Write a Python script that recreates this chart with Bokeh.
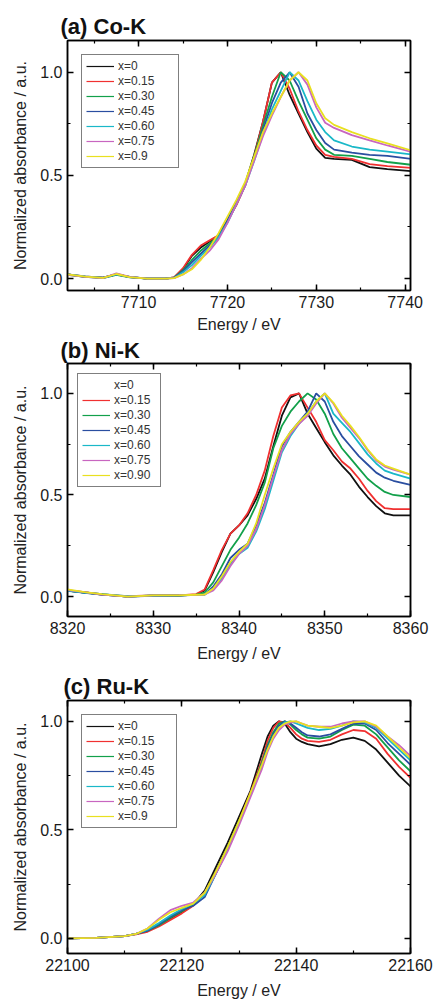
from bokeh.plotting import figure
from bokeh.layouts import column
from bokeh.models import (Legend, LegendItem, LinearAxis, Range1d, SingleIntervalTicker,
                          PrintfTickFormatter, CustomLabelingPolicy)
from bokeh.embed import file_html
from bokeh.resources import INLINE

FONT = "Liberation Sans"
COLORS = ["#111111", "#f03030", "#12a04a", "#2a4ea0", "#1ab8c8", "#c866c0", "#e8e020"]

# ---------------- (a) Co-K ----------------
CO_E = [7702, 7704, 7706, 7707.5, 7709, 7711, 7713, 7714, 7715, 7716, 7717, 7718, 7719, 7720,
        7721, 7722, 7723, 7724, 7725, 7726, 7727, 7728, 7729, 7730, 7731, 7732, 7734, 7736, 7738, 7741]
co_x000 = [0.02, 0.008, 0.004, 0.02, 0.008, 0.0, 0.0, 0.005, 0.045, 0.11, 0.15, 0.18, 0.21, 0.28,
           0.36, 0.46, 0.60, 0.76, 0.95, 1.0, 0.89, 0.80, 0.71, 0.63, 0.585, 0.58, 0.575, 0.54, 0.53, 0.52]
co_x015 = [0.02, 0.01, 0.003, 0.022, 0.007, 0.0, 0.0, 0.006, 0.05, 0.115, 0.16, 0.185, 0.21, 0.28,
           0.355, 0.45, 0.59, 0.76, 0.95, 1.0, 0.92, 0.81, 0.72, 0.645, 0.60, 0.59, 0.58, 0.555, 0.545, 0.535]
co_x030 = [0.018, 0.008, 0.002, 0.018, 0.006, 0.0, 0.0, 0.004, 0.04, 0.09, 0.135, 0.17, 0.205, 0.28,
           0.37, 0.46, 0.59, 0.74, 0.88, 1.0, 0.96, 0.86, 0.77, 0.68, 0.625, 0.60, 0.595, 0.58, 0.565, 0.55]
co_x045 = [0.02, 0.009, 0.004, 0.02, 0.007, 0.0, 0.0, 0.004, 0.035, 0.08, 0.12, 0.16, 0.2, 0.28,
           0.37, 0.46, 0.58, 0.72, 0.85, 0.95, 1.0, 0.93, 0.80, 0.72, 0.657, 0.625, 0.61, 0.60, 0.595, 0.578]
co_x060 = [0.02, 0.01, 0.003, 0.02, 0.008, 0.0, 0.0, 0.003, 0.03, 0.065, 0.11, 0.15, 0.2, 0.27,
           0.36, 0.45, 0.57, 0.70, 0.82, 0.91, 1.0, 0.96, 0.86, 0.77, 0.71, 0.67, 0.64, 0.625, 0.615, 0.60]
co_x075 = [0.018, 0.008, 0.002, 0.025, 0.008, 0.0, 0.0, 0.002, 0.02, 0.05, 0.095, 0.135, 0.19, 0.27,
           0.36, 0.45, 0.57, 0.69, 0.79, 0.88, 0.96, 1.0, 0.94, 0.83, 0.755, 0.73, 0.695, 0.67, 0.645, 0.61]
co_x090 = [0.02, 0.009, 0.003, 0.022, 0.007, 0.0, 0.0, 0.002, 0.02, 0.045, 0.09, 0.15, 0.22, 0.30,
           0.38, 0.47, 0.59, 0.71, 0.80, 0.88, 0.96, 1.0, 0.96, 0.85, 0.777, 0.745, 0.71, 0.68, 0.655, 0.617]
CO_LABELS = ["x=0", "x=0.15", "x=0.30", "x=0.45", "x=0.60", "x=0.75", "x=0.9"]

# ---------------- (b) Ni-K ----------------
NI_E = [8320, 8322, 8324, 8327, 8330, 8333, 8335,
        8336, 8337, 8338, 8339, 8340, 8341, 8342, 8343, 8344, 8345, 8346, 8347,
        8348, 8349, 8350, 8351, 8352, 8353, 8354, 8355, 8356, 8357, 8358, 8360]
ni_x000 = [0.03, 0.02, 0.012, 0.0, 0.005, 0.005, 0.01,
           0.03, 0.12, 0.22, 0.31, 0.35, 0.40, 0.48, 0.58, 0.74, 0.89, 0.98, 1.0,
           0.90, 0.83, 0.76, 0.695, 0.645, 0.60, 0.54, 0.49, 0.445, 0.41, 0.40, 0.40]
ni_x015 = [0.03, 0.022, 0.01, 0.002, 0.006, 0.006, 0.012,
           0.035, 0.13, 0.23, 0.31, 0.35, 0.41, 0.50, 0.62, 0.79, 0.93, 0.99, 1.0,
           0.93, 0.86, 0.77, 0.72, 0.665, 0.63, 0.58, 0.52, 0.47, 0.435, 0.43, 0.43]
ni_x030 = [0.028, 0.02, 0.01, 0.0, 0.006, 0.006, 0.01,
           0.02, 0.07, 0.15, 0.23, 0.29, 0.36, 0.45, 0.56, 0.73, 0.84, 0.91, 0.96,
           1.0, 0.97, 0.90, 0.80, 0.73, 0.68, 0.63, 0.58, 0.545, 0.515, 0.50, 0.49]
ni_x045 = [0.03, 0.018, 0.01, 0.0, 0.004, 0.005, 0.008,
           0.01, 0.05, 0.11, 0.19, 0.23, 0.26, 0.35, 0.46, 0.60, 0.74, 0.81, 0.86,
           0.91, 1.0, 0.96, 0.86, 0.79, 0.74, 0.69, 0.65, 0.61, 0.585, 0.57, 0.55]
ni_x060 = [0.03, 0.02, 0.012, 0.002, 0.005, 0.006, 0.008,
           0.01, 0.04, 0.09, 0.16, 0.21, 0.24, 0.32, 0.43, 0.57, 0.71, 0.79, 0.85,
           0.90, 0.96, 1.0, 0.90, 0.855, 0.81, 0.755, 0.70, 0.655, 0.62, 0.605, 0.58]
ni_x075 = [0.032, 0.022, 0.01, 0.0, 0.006, 0.007, 0.008,
           0.01, 0.03, 0.08, 0.15, 0.21, 0.25, 0.33, 0.45, 0.59, 0.72, 0.80, 0.85,
           0.89, 0.95, 1.0, 0.95, 0.88, 0.83, 0.78, 0.72, 0.67, 0.64, 0.625, 0.60]
ni_x090 = [0.035, 0.022, 0.012, 0.0, 0.006, 0.006, 0.009,
           0.01, 0.04, 0.10, 0.17, 0.22, 0.26, 0.36, 0.50, 0.63, 0.75, 0.81, 0.86,
           0.90, 0.96, 1.0, 0.955, 0.89, 0.84, 0.785, 0.725, 0.675, 0.645, 0.63, 0.60]
NI_LABELS = ["x=0", "x=0.15", "x=0.30", "x=0.45", "x=0.60", "x=0.75", "x=0.90"]

# ---------------- (c) Ru-K ----------------
RU_E = [22100, 22105, 22110, 22112, 22114, 22116, 22118, 22120, 22122, 22124, 22126, 22128,
        22130, 22132, 22134, 22135, 22136, 22137, 22138, 22139, 22140, 22141,
        22142, 22144, 22146, 22148, 22150, 22152, 22154, 22156, 22158, 22160]
ru_x000 = [0.0, 0.002, 0.01, 0.02, 0.035, 0.06, 0.09, 0.12, 0.155, 0.22, 0.33, 0.44, 0.56, 0.68, 0.85,
           0.93, 0.98, 1.0, 0.99, 0.95, 0.92, 0.905,
           0.895, 0.885, 0.895, 0.915, 0.925, 0.91, 0.87, 0.81, 0.75, 0.70]
ru_x015 = [0.0, 0.002, 0.01, 0.018, 0.03, 0.055, 0.085, 0.115, 0.15, 0.21, 0.31, 0.42, 0.54, 0.67, 0.82,
           0.91, 0.97, 1.0, 0.995, 0.97, 0.94, 0.92,
           0.91, 0.905, 0.915, 0.94, 0.96, 0.955, 0.92, 0.85, 0.79, 0.74]
ru_x030 = [0.0, 0.002, 0.01, 0.02, 0.035, 0.06, 0.095, 0.125, 0.155, 0.21, 0.31, 0.42, 0.54, 0.66, 0.81,
           0.89, 0.95, 0.99, 1.0, 0.985, 0.96, 0.94,
           0.925, 0.92, 0.93, 0.96, 0.985, 0.98, 0.94, 0.88, 0.82, 0.77]
ru_x045 = [0.0, 0.002, 0.01, 0.02, 0.035, 0.065, 0.1, 0.13, 0.15, 0.19, 0.30, 0.41, 0.53, 0.66, 0.80,
           0.88, 0.94, 0.98, 1.0, 0.99, 0.97, 0.95,
           0.935, 0.93, 0.94, 0.965, 0.99, 0.99, 0.96, 0.90, 0.85, 0.80]
ru_x060 = [0.0, 0.002, 0.01, 0.02, 0.04, 0.07, 0.105, 0.135, 0.16, 0.2, 0.3, 0.41, 0.53, 0.66, 0.79,
           0.87, 0.93, 0.97, 0.995, 1.0, 0.99, 0.98,
           0.97, 0.96, 0.965, 0.98, 1.0, 0.995, 0.97, 0.92, 0.87, 0.82]
ru_x075 = [0.0, 0.002, 0.01, 0.02, 0.045, 0.09, 0.13, 0.15, 0.165, 0.21, 0.3, 0.4, 0.52, 0.65, 0.78,
           0.86, 0.92, 0.96, 0.985, 0.995, 1.0, 0.99,
           0.98, 0.975, 0.975, 0.99, 1.0, 1.0, 0.975, 0.93, 0.89, 0.84]
ru_x090 = [0.0, 0.002, 0.01, 0.02, 0.045, 0.085, 0.12, 0.14, 0.16, 0.21, 0.31, 0.42, 0.54, 0.67, 0.80,
           0.87, 0.93, 0.97, 0.99, 1.0, 1.0, 0.99,
           0.98, 0.975, 0.97, 0.98, 0.995, 1.0, 0.98, 0.93, 0.88, 0.83]
RU_LABELS = ["x=0", "x=0.15", "x=0.30", "x=0.45", "x=0.60", "x=0.75", "x=0.9"]

NO_LABELS = """
try {
  for (const i of Array.from(indices)) { indices.unset(i) }
} catch (e) {}
return indices
"""


def style_axis(ax, labels=True, xlabel_standoff=8):
    ax.axis_line_width = 1.5
    ax.axis_line_color = "black"
    ax.major_tick_in = 6
    ax.major_tick_out = 0
    ax.minor_tick_in = 3
    ax.minor_tick_out = 0
    ax.major_tick_line_width = 1.5
    ax.minor_tick_line_width = 1.2
    if labels:
        ax.major_label_text_font = FONT
        ax.major_label_text_font_size = "16px"
        ax.major_label_text_color = "#1a1a1a"
        ax.major_label_standoff = 5
        ax.axis_label_text_font = FONT
        ax.axis_label_text_font_size = "16px"
        ax.axis_label_text_font_style = "normal"
        ax.axis_label_text_color = "#222222"
        ax.axis_label_standoff = xlabel_standoff
    else:
        ax.major_label_text_font_size = "0px"
        ax.major_label_standoff = 0
        ax.major_label_policy = CustomLabelingPolicy(code=NO_LABELS)


def make_panel(title, grid, series, labels, xr, yr, xint, height, top, bottom,
               leg_margin, leg_label_width, title_offset, title_standoff,
               xlabel_standoff, blank_first=False):
    p = figure(width=433, height=height, x_range=Range1d(*xr), y_range=Range1d(*yr),
               output_backend="svg", toolbar_location=None,
               min_border_left=67, min_border_right=23,
               min_border_top=top, min_border_bottom=bottom)
    p.grid.visible = False
    p.outline_line_color = "black"
    p.outline_line_width = 1.5
    p.background_fill_color = "white"
    p.border_fill_color = "white"

    p.xaxis.ticker = SingleIntervalTicker(interval=xint, num_minor_ticks=2)
    p.yaxis.ticker = SingleIntervalTicker(interval=0.5, num_minor_ticks=2)
    p.yaxis.formatter = PrintfTickFormatter(format="%.1f")
    style_axis(p.xaxis[0], xlabel_standoff=xlabel_standoff)
    style_axis(p.yaxis[0], xlabel_standoff=8)
    p.xaxis.axis_label = "Energy / eV"
    p.yaxis.axis_label = "Normalized absorbance / a.u."

    ax_r = LinearAxis(ticker=SingleIntervalTicker(interval=0.5, num_minor_ticks=2))
    style_axis(ax_r, labels=False)
    p.add_layout(ax_r, "right")
    ax_t = LinearAxis(ticker=SingleIntervalTicker(interval=xint, num_minor_ticks=2))
    style_axis(ax_t, labels=False)
    p.add_layout(ax_t, "above")

    p.title.text = title
    p.title.text_font = FONT
    p.title.text_font_size = "22px"
    p.title.text_font_style = "bold"
    p.title.text_color = "#111111"
    p.title.align = "left"
    p.title.offset = title_offset
    p.title.standoff = title_standoff

    items = []
    for i, (ys, lab, col) in enumerate(zip(series, labels, COLORS)):
        p.line(grid, ys, line_color=col, line_width=1.8)
        # thin legend swatch: a one-point line draws nothing in the frame
        swatch = p.line(grid[:1], ys[:1], line_color=col, line_width=1.2,
                        line_alpha=0 if (blank_first and i == 0) else 1)
        items.append(LegendItem(label=lab, renderers=[swatch]))

    leg = Legend(items=items, location="top_left", margin=leg_margin, padding=4,
                 spacing=1, label_height=14, glyph_height=14, glyph_width=28,
                 label_standoff=4, label_width=leg_label_width,
                 label_text_font=FONT, label_text_font_size="12px",
                 label_text_color="#333333",
                 border_line_color="black", border_line_width=1.5,
                 background_fill_color="white", background_fill_alpha=1.0)
    p.add_layout(leg)
    return p


pa = make_panel("(a) Co-K", CO_E,
                [co_x000, co_x015, co_x030, co_x045, co_x060, co_x075, co_x090], CO_LABELS,
                (7702, 7740.6), (-0.058, 1.154), 10, 335, 40, 43, 14, 56, -7, 4, 5)
pb = make_panel("(b) Ni-K", NI_E,
                [ni_x000, ni_x015, ni_x030, ni_x045, ni_x060, ni_x075, ni_x090], NI_LABELS,
                (8320, 8360), (-0.098, 1.147), 10, 330, 27, 49, 10, 42, -7, 1, 8,
                blank_first=True)
pc = make_panel("(c) Ru-K", RU_E,
                [ru_x000, ru_x015, ru_x030, ru_x045, ru_x060, ru_x075, ru_x090], RU_LABELS,
                (22100, 22160), (-0.07, 1.096), 20, 336, 35, 47, 14, 54, -4, 4, 8)

layout = column(pa, pb, pc)
open("out.html", "w").write(file_html(layout, INLINE))
